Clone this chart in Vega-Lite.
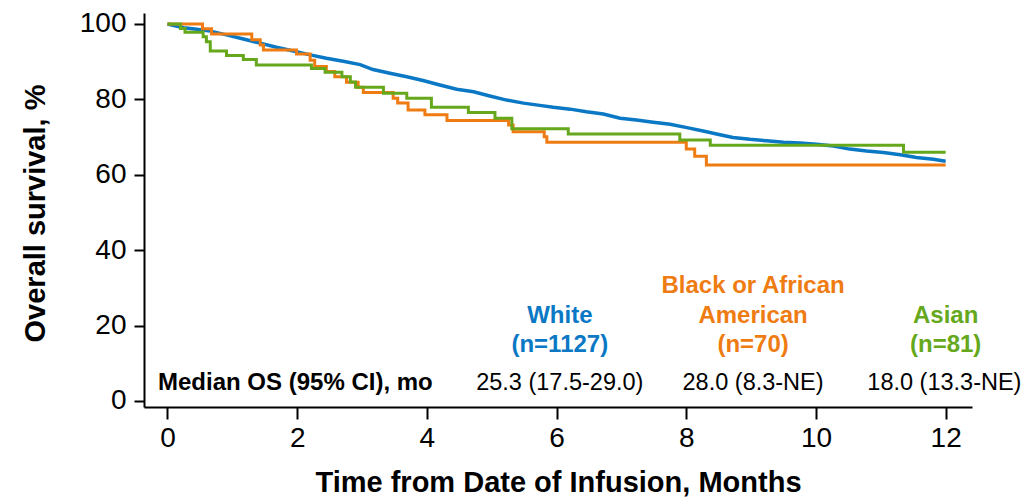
{
  "$schema": "https://vega.github.io/schema/vega-lite/v6.json",
  "width": 828,
  "height": 394,
  "autosize": {"type": "none"},
  "padding": {"left": 144, "top": 13, "right": 53, "bottom": 91},
  "background": "white",
  "config": {
    "view": {"stroke": null},
    "font": "Liberation Sans",
    "axis": {
      "domainColor": "#000000", "domainWidth": 2,
      "tickColor": "#000000", "tickWidth": 2,
      "labelColor": "#000000", "titleColor": "#000000",
      "grid": false,
      "labelFont": "Liberation Sans", "titleFont": "Liberation Sans",
      "labelFontSize": 28, "titleFontSize": 29, "titleFontWeight": "bold",
      "labelFlush": false, "labelOverlap": false
    }
  },
  "datasets": {
    "white": [
      {"group": "White", "t": 0, "s": 100},
      {"group": "White", "t": 0.1, "s": 99.6},
      {"group": "White", "t": 0.25, "s": 99.0},
      {"group": "White", "t": 0.45, "s": 98.6},
      {"group": "White", "t": 0.66, "s": 98.1},
      {"group": "White", "t": 0.91, "s": 97.1},
      {"group": "White", "t": 1.17, "s": 96.0},
      {"group": "White", "t": 1.43, "s": 94.9},
      {"group": "White", "t": 1.68, "s": 93.8},
      {"group": "White", "t": 1.94, "s": 92.8},
      {"group": "White", "t": 2.2, "s": 91.8},
      {"group": "White", "t": 2.45, "s": 90.9},
      {"group": "White", "t": 2.71, "s": 90.1},
      {"group": "White", "t": 2.97, "s": 89.2},
      {"group": "White", "t": 3.17, "s": 87.9},
      {"group": "White", "t": 3.43, "s": 86.9},
      {"group": "White", "t": 3.69, "s": 86.0},
      {"group": "White", "t": 3.94, "s": 85.0},
      {"group": "White", "t": 4.2, "s": 83.8},
      {"group": "White", "t": 4.46, "s": 82.7},
      {"group": "White", "t": 4.72, "s": 82.0},
      {"group": "White", "t": 4.97, "s": 80.9},
      {"group": "White", "t": 5.23, "s": 79.8},
      {"group": "White", "t": 5.49, "s": 79.0},
      {"group": "White", "t": 5.74, "s": 78.4},
      {"group": "White", "t": 5.95, "s": 77.9},
      {"group": "White", "t": 6.21, "s": 77.4},
      {"group": "White", "t": 6.46, "s": 76.7},
      {"group": "White", "t": 6.72, "s": 76.1},
      {"group": "White", "t": 6.98, "s": 75.0},
      {"group": "White", "t": 7.23, "s": 74.5},
      {"group": "White", "t": 7.49, "s": 73.9},
      {"group": "White", "t": 7.75, "s": 73.4},
      {"group": "White", "t": 8.01, "s": 72.5},
      {"group": "White", "t": 8.26, "s": 71.6},
      {"group": "White", "t": 8.52, "s": 70.6},
      {"group": "White", "t": 8.72, "s": 69.9},
      {"group": "White", "t": 8.98, "s": 69.4},
      {"group": "White", "t": 9.24, "s": 69.0},
      {"group": "White", "t": 9.5, "s": 68.6},
      {"group": "White", "t": 9.75, "s": 68.4},
      {"group": "White", "t": 10.01, "s": 68.1},
      {"group": "White", "t": 10.27, "s": 67.6},
      {"group": "White", "t": 10.52, "s": 66.8},
      {"group": "White", "t": 10.78, "s": 66.3},
      {"group": "White", "t": 11.04, "s": 65.9},
      {"group": "White", "t": 11.3, "s": 65.3},
      {"group": "White", "t": 11.55, "s": 64.6},
      {"group": "White", "t": 11.81, "s": 64.1},
      {"group": "White", "t": 12.0, "s": 63.6}
    ],
    "steps": [
      {"group": "Black or African American", "t": 0, "s": 100},
      {"group": "Black or African American", "t": 0.54, "s": 98.7},
      {"group": "Black or African American", "t": 0.68, "s": 97.3},
      {"group": "Black or African American", "t": 1.30, "s": 95.8},
      {"group": "Black or African American", "t": 1.43, "s": 94.4},
      {"group": "Black or African American", "t": 1.48, "s": 93.1},
      {"group": "Black or African American", "t": 1.99, "s": 92.0},
      {"group": "Black or African American", "t": 2.2, "s": 90.4},
      {"group": "Black or African American", "t": 2.27, "s": 88.7},
      {"group": "Black or African American", "t": 2.45, "s": 87.4},
      {"group": "Black or African American", "t": 2.58, "s": 86.0},
      {"group": "Black or African American", "t": 2.76, "s": 84.5},
      {"group": "Black or African American", "t": 2.94, "s": 83.2},
      {"group": "Black or African American", "t": 3.02, "s": 81.8},
      {"group": "Black or African American", "t": 3.48, "s": 80.3},
      {"group": "Black or African American", "t": 3.55, "s": 79.0},
      {"group": "Black or African American", "t": 3.71, "s": 77.2},
      {"group": "Black or African American", "t": 3.97, "s": 75.9},
      {"group": "Black or African American", "t": 4.31, "s": 74.4},
      {"group": "Black or African American", "t": 5.26, "s": 73.2},
      {"group": "Black or African American", "t": 5.33, "s": 71.4},
      {"group": "Black or African American", "t": 5.81, "s": 70.1},
      {"group": "Black or African American", "t": 5.85, "s": 68.6},
      {"group": "Black or African American", "t": 8.0, "s": 66.8},
      {"group": "Black or African American", "t": 8.13, "s": 64.9},
      {"group": "Black or African American", "t": 8.31, "s": 62.6},
      {"group": "Black or African American", "t": 12.0, "s": 62.6},
      {"group": "Asian", "t": 0, "s": 100},
      {"group": "Asian", "t": 0.2, "s": 98.8},
      {"group": "Asian", "t": 0.27, "s": 97.8},
      {"group": "Asian", "t": 0.55, "s": 96.6},
      {"group": "Asian", "t": 0.6, "s": 95.3},
      {"group": "Asian", "t": 0.66, "s": 92.8},
      {"group": "Asian", "t": 0.91, "s": 91.6},
      {"group": "Asian", "t": 1.17, "s": 90.6},
      {"group": "Asian", "t": 1.37, "s": 89.1},
      {"group": "Asian", "t": 2.22, "s": 88.2},
      {"group": "Asian", "t": 2.43, "s": 87.2},
      {"group": "Asian", "t": 2.69, "s": 86.0},
      {"group": "Asian", "t": 2.82, "s": 84.6},
      {"group": "Asian", "t": 2.9, "s": 83.2},
      {"group": "Asian", "t": 3.33, "s": 81.6},
      {"group": "Asian", "t": 3.69, "s": 80.3},
      {"group": "Asian", "t": 4.07, "s": 77.9},
      {"group": "Asian", "t": 4.64, "s": 76.5},
      {"group": "Asian", "t": 5.05, "s": 75.0},
      {"group": "Asian", "t": 5.31, "s": 72.2},
      {"group": "Asian", "t": 6.18, "s": 70.8},
      {"group": "Asian", "t": 7.9, "s": 69.2},
      {"group": "Asian", "t": 8.37, "s": 67.8},
      {"group": "Asian", "t": 11.35, "s": 66.0},
      {"group": "Asian", "t": 12.0, "s": 66.0}
    ],
    "groupLabels": [
      {"label": "White", "group": "White", "t": 6.05, "s": 20.7},
      {"label": "(n=1127)", "group": "White", "t": 6.05, "s": 13.1},
      {"label": "Black or African", "group": "Black or African American", "t": 9.03, "s": 28.6},
      {"label": "American", "group": "Black or African American", "t": 9.03, "s": 20.7},
      {"label": "(n=70)", "group": "Black or African American", "t": 9.03, "s": 13.1},
      {"label": "Asian", "group": "Asian", "t": 12.0, "s": 20.7},
      {"label": "(n=81)", "group": "Asian", "t": 12.0, "s": 13.1}
    ],
    "medians": [
      {"label": "25.3 (17.5-29.0)", "t": 6.05, "s": 2.8},
      {"label": "28.0 (8.3-NE)", "t": 9.03, "s": 2.8},
      {"label": "18.0 (13.3-NE)", "t": 11.98, "s": 2.8}
    ],
    "rowLabel": [
      {"label": "Median OS (95% CI), mo", "t": -0.146, "s": 2.8}
    ]
  },
  "encoding": {
    "x": {
      "field": "t", "type": "quantitative",
      "scale": {"domain": [-0.362, 12.406], "nice": false, "zero": false},
      "axis": {
        "values": [0, 2, 4, 6, 8, 10, 12],
        "tickSize": 12, "labelPadding": 5,
        "title": "Time from Date of Infusion, Months",
        "titleY": 84, "titleBaseline": "alphabetic"
      }
    },
    "y": {
      "field": "s", "type": "quantitative",
      "scale": {"domain": [-1.6, 102.9], "nice": false, "zero": false},
      "axis": {
        "values": [0, 20, 40, 60, 80, 100],
        "tickSize": 10, "labelPadding": 8,
        "title": "Overall survival, %",
        "titleX": -100, "titleY": 200, "titleBaseline": "alphabetic"
      }
    }
  },
  "layer": [
    {
      "data": {"name": "white"},
      "mark": {"type": "line", "interpolate": "linear", "strokeWidth": 3.5},
      "encoding": {
        "color": {
          "field": "group", "type": "nominal", "legend": null,
          "scale": {"domain": ["White", "Black or African American", "Asian"], "range": ["#0a78c4", "#ef7c12", "#66a81c"]}
        }
      }
    },
    {
      "data": {"name": "steps"},
      "mark": {"type": "line", "interpolate": "step-after", "strokeWidth": 3},
      "encoding": {
        "color": {"field": "group", "type": "nominal", "legend": null},
        "order": {"field": "t", "type": "quantitative"}
      }
    },
    {
      "data": {"name": "groupLabels"},
      "mark": {"type": "text", "font": "Liberation Sans", "fontWeight": "bold", "fontSize": 24, "align": "center", "baseline": "alphabetic"},
      "encoding": {
        "text": {"field": "label"},
        "color": {"field": "group", "type": "nominal", "legend": null}
      }
    },
    {
      "data": {"name": "medians"},
      "mark": {"type": "text", "font": "Liberation Sans", "fontSize": 23.5, "align": "center", "baseline": "alphabetic", "color": "#000000"},
      "encoding": {"text": {"field": "label"}}
    },
    {
      "data": {"name": "rowLabel"},
      "mark": {"type": "text", "font": "Liberation Sans", "fontWeight": "bold", "fontSize": 24, "align": "left", "baseline": "alphabetic", "color": "#000000"},
      "encoding": {"text": {"field": "label"}}
    }
  ]
}
